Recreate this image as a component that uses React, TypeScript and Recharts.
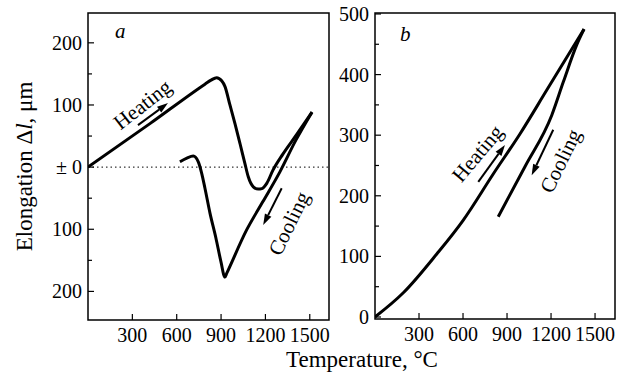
import { LineChart, Line, XAxis, YAxis, ReferenceLine, ReferenceArea } from "recharts";

const SERIF = "'Liberation Serif', 'Times New Roman', Times, serif";

// temperature ticks (°C), shared by both panels
const tempTicks = [300, 600, 900, 1200, 1500];
// elongation ticks, panel a (minor every 50)
const elongTicksA = [-200, -150, -100, -50, 0, 50, 100, 150, 200];
// elongation ticks, panel b
const elongTicksB = [0, 50, 100, 150, 200, 250, 300, 350, 400, 450, 500];

// panel a, heating run (t in °C, dl in µm)
const heatingA = [
  { t: 0, dl: 0 },
  { t: 419, dl: 70 },
  { t: 791, dl: 133.5 },
  { t: 832, dl: 140 },
  { t: 870, dl: 144 },
  { t: 904, dl: 139 },
  { t: 926, dl: 130 },
  { t: 960, dl: 100 },
  { t: 994, dl: 70 },
  { t: 1028, dl: 38 },
  { t: 1061, dl: 6 },
  { t: 1084, dl: -15.6 },
  { t: 1118, dl: -31.7 },
  { t: 1151, dl: -35.4 },
  { t: 1176, dl: -34.6 },
  { t: 1210, dl: -25.7 },
  { t: 1251, dl: -4.8 },
  { t: 1318, dl: 21 },
  { t: 1413, dl: 53 },
  { t: 1515, dl: 88.5 },
];

// panel a, cooling run (listed by rising t)
const coolingA = [
  { t: 622, dl: 8.5 },
  { t: 669, dl: 14.5 },
  { t: 712, dl: 17.7 },
  { t: 746, dl: 8.5 },
  { t: 769, dl: -10 },
  { t: 791, dl: -34 },
  { t: 825, dl: -74 },
  { t: 865, dl: -114 },
  { t: 899, dl: -152 },
  { t: 926, dl: -177 },
  { t: 938, dl: -171 },
  { t: 1073, dl: -101 },
  { t: 1183, dl: -55.5 },
  { t: 1298, dl: -7.6 },
  { t: 1406, dl: 43.4 },
  { t: 1515, dl: 88.5 },
];

// panel b, heating run
const heatingB = [
  { t: 0, dl: 0 },
  { t: 193, dl: 40 },
  { t: 421, dl: 104 },
  { t: 602, dl: 160 },
  { t: 806, dl: 236 },
  { t: 988, dl: 302 },
  { t: 1170, dl: 374 },
  { t: 1425, dl: 475 },
];

// panel b, cooling run (listed by rising t)
const coolingB = [
  { t: 840, dl: 165.5 },
  { t: 1022, dl: 248 },
  { t: 1205, dl: 333 },
  { t: 1284, dl: 388 },
  { t: 1375, dl: 449 },
  { t: 1425, dl: 475 },
];

// direction arrows, in data units
const arrowsA = [
  [{ x: 338, y: 67.6 }, { x: 541, y: 103 }],
  [{ x: 1310, y: -34 }, { x: 1185, y: -93 }],
];
const arrowsB = [
  [{ x: 704, y: 223 }, { x: 886, y: 284 }],
  [{ x: 1215, y: 309 }, { x: 1068, y: 234 }],
];

const Arrow = (p: any) => {
  const { x1, y1, x2, y2 } = p;
  const a = Math.atan2(y2 - y1, x2 - x1);
  const L = 11;
  const W = 3.6;
  const bx = x2 - L * Math.cos(a);
  const by = y2 - L * Math.sin(a);
  const pts = `${x2},${y2} ${bx + W * Math.sin(a)},${by - W * Math.cos(a)} ${bx - W * Math.sin(a)},${by + W * Math.cos(a)}`;
  return (
    <g>
      <line x1={x1} y1={y1} x2={bx} y2={by} stroke="#000" strokeWidth={2} />
      <polygon points={pts} fill="#000" />
    </g>
  );
};

const txt = { fontFamily: SERIF, fill: "#000" };

const YTick = ({ x, y, payload, fmt }: any) => {
  const v = payload.value;
  const major = v % 100 === 0;
  return (
    <g>
      <line x1={x} y1={y} x2={x + (major ? 6 : 4)} y2={y} stroke="#000" strokeWidth={1.2} />
      {major && (
        <text x={x - 6} y={y} textAnchor="end" dominantBaseline="central" style={{ ...txt, fontSize: 20 }}>
          {fmt(v)}
        </text>
      )}
    </g>
  );
};

const XTick = ({ x, y, payload }: any) => (
  <g>
    <line x1={x} y1={y} x2={x} y2={y - 6} stroke="#000" strokeWidth={1.2} />
    <text x={x} y={y + 22} textAnchor="middle" style={{ ...txt, fontSize: 20 }}>
      {payload.value}
    </text>
  </g>
);

const fmtA = (v: number) => (v === 0 ? "± 0" : String(Math.abs(v)));
const fmtB = (v: number) => String(v);

function Panel({ margin, xDomain, yDomain, yTicks, fmt, heating, cooling, arrows, zeroLine }: any) {
  return (
    <LineChart width={626} height={372} margin={margin} style={{ position: "absolute", left: 0, top: 0 }}>
      <XAxis
        dataKey="t"
        type="number"
        domain={xDomain}
        allowDataOverflow
        ticks={tempTicks}
        interval={0}
        height={30}
        axisLine={false}
        tickLine={false}
        tickSize={0}
        tickMargin={0}
        tick={(p: any) => <XTick {...p} />}
      />
      <YAxis
        type="number"
        domain={yDomain}
        allowDataOverflow
        ticks={yTicks}
        interval={0}
        width={60}
        axisLine={false}
        tickLine={false}
        tickSize={0}
        tickMargin={0}
        tick={(p: any) => <YTick {...p} fmt={fmt} />}
      />
      <ReferenceArea
        x1={xDomain[0]}
        x2={xDomain[1]}
        y1={yDomain[0]}
        y2={yDomain[1]}
        fill="none"
        fillOpacity={0}
        stroke="#000"
        strokeWidth={1.5}
        ifOverflow="visible"
      />
      {zeroLine && <ReferenceLine y={0} stroke="#000" strokeWidth={1} strokeDasharray="1.5 3" />}
      {arrows.map((seg: any, i: number) => (
        <ReferenceLine key={i} segment={seg} shape={Arrow} ifOverflow="visible" />
      ))}
      <Line data={heating} dataKey="dl" type="monotone" stroke="#000" strokeWidth={3} dot={false} isAnimationActive={false} />
      <Line data={cooling} dataKey="dl" type="monotone" stroke="#000" strokeWidth={3} dot={false} isAnimationActive={false} />
    </LineChart>
  );
}

const rotText = (x: number, y: number, deg: number, s: string) => (
  <text
    x={x}
    y={y}
    textAnchor="middle"
    dominantBaseline="central"
    transform={`rotate(${deg} ${x} ${y})`}
    style={{ ...txt, fontSize: 21 }}
  >
    {s}
  </text>
);

export default function App() {
  return (
    <div style={{ position: "absolute", left: 0, top: 0, width: 626, height: 372, background: "#fff", fontFamily: SERIF }}>
      <Panel
        margin={{ top: 13, right: 297, bottom: 22, left: 28 }}
        xDomain={[0, 1630]}
        yDomain={[-246, 248]}
        yTicks={elongTicksA}
        fmt={fmtA}
        heating={heatingA}
        cooling={coolingA}
        arrows={arrowsA}
        zeroLine
      />
      <Panel
        margin={{ top: 13, right: 11, bottom: 23, left: 315 }}
        xDomain={[0, 1636]}
        yDomain={[-3.3, 501.6]}
        yTicks={elongTicksB}
        fmt={fmtB}
        heating={heatingB}
        cooling={coolingB}
        arrows={arrowsB}
        zeroLine={false}
      />
      <svg width={626} height={372} style={{ position: "absolute", left: 0, top: 0, pointerEvents: "none" }}>
        <text x={32} y={166.5} transform="rotate(-90 32 166.5)" textAnchor="middle" style={{ ...txt, fontSize: 23 }}>
          Elongation Δ<tspan fontStyle="italic">l</tspan>, μm
        </text>
        <text x={362} y={367} textAnchor="middle" style={{ ...txt, fontSize: 23 }}>
          Temperature, °C
        </text>
        <text x={115} y={38} style={{ ...txt, fontSize: 21, fontStyle: "italic" }}>a</text>
        <text x={400} y={41} style={{ ...txt, fontSize: 21, fontStyle: "italic" }}>b</text>
        {rotText(142.5, 104.5, -38, "Heating")}
        {rotText(289, 223.5, -64, "Cooling")}
        {rotText(477.5, 153.5, -50, "Heating")}
        {rotText(560.5, 161, -64, "Cooling")}
      </svg>
    </div>
  );
}
